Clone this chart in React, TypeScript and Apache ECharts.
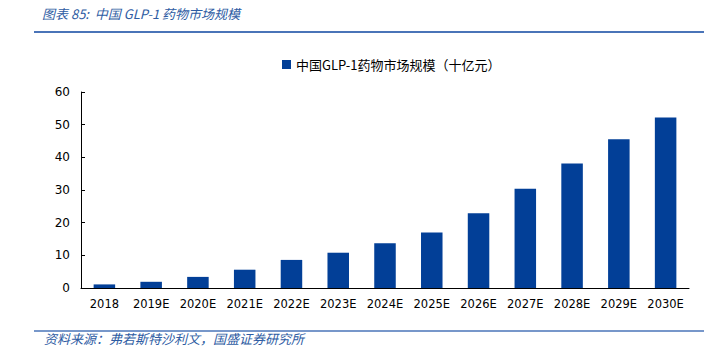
import React, { useEffect, useRef } from "react";
import * as echarts from "echarts";

const categories = ["2018", "2019E", "2020E", "2021E", "2022E", "2023E", "2024E", "2025E", "2026E", "2027E", "2028E", "2029E", "2030E"];
const marketSize = [1.1, 1.9, 3.4, 5.6, 8.6, 10.8, 13.7, 17.0, 22.9, 30.4, 38.1, 45.5, 52.2];
const seriesName = "中国GLP-1药物市场规模（十亿元）";
const titleText = "图表 85:  中国 GLP-1 药物市场规模";
const sourceText = "资料来源：弗若斯特沙利文，国盛证券研究所";

export default function App() {
  const ref = useRef<HTMLDivElement>(null);
  useEffect(() => {
    document.body.style.margin = "0";
    const chart = echarts.init(ref.current!, null, { renderer: "svg" });
    const font = "'DejaVu Sans', 'Noto Sans CJK SC', sans-serif";
    chart.setOption({
      animation: false,
      backgroundColor: "#ffffff",
      grid: { left: 81, right: 15, top: 92, bottom: 70 },
      legend: {
        top: 53,
        left: 277,
        itemWidth: 9,
        itemHeight: 9,
        itemGap: 4,
        icon: "rect",
        textStyle: { fontFamily: "'Noto Sans CJK SC', sans-serif", fontSize: 13, color: "#000" },
        data: [seriesName],
      },
      xAxis: {
        type: "category",
        data: categories,
        axisLine: { lineStyle: { color: "#000", width: 1 } },
        axisTick: { inside: true, length: 4, lineStyle: { color: "#000" } },
        axisLabel: { interval: 0, fontFamily: font, fontSize: 11.5, color: "#000", margin: 10 },
      },
      yAxis: {
        type: "value",
        min: 0,
        max: 60,
        interval: 10,
        splitLine: { show: false },
        axisLine: { show: true, onZero: false, lineStyle: { color: "#000", width: 1 } },
        axisTick: { show: true, inside: true, length: 4, lineStyle: { color: "#000" } },
        axisLabel: { fontFamily: font, fontSize: 12, color: "#000", margin: 11 },
      },
      series: [
        {
          name: seriesName,
          type: "bar",
          data: marketSize,
          barWidth: "46%",
          itemStyle: { color: "#023f97" },
        },
      ],
      graphic: [
        {
          type: "text",
          left: 42,
          top: 7,
          style: {
            text: titleText,
            font: "italic 13px 'Noto Sans CJK SC', sans-serif",
            fill: "#2e5ca3",
          },
        },
        {
          type: "line",
          shape: { x1: 34, y1: 32, x2: 704, y2: 32 },
          style: { stroke: "#4a74b8", lineWidth: 2 },
        },
        {
          type: "line",
          shape: { x1: 34, y1: 331, x2: 704, y2: 331 },
          style: { stroke: "#4a74b8", lineWidth: 1.5 },
        },
        {
          type: "text",
          left: 44,
          top: 332,
          style: {
            text: sourceText,
            font: "italic 13px 'Noto Sans CJK SC', sans-serif",
            fill: "#2e5ca3",
          },
        },
      ],
    });
    return () => chart.dispose();
  }, []);
  return <div ref={ref} style={{ width: 704, height: 358 }} />;
}
